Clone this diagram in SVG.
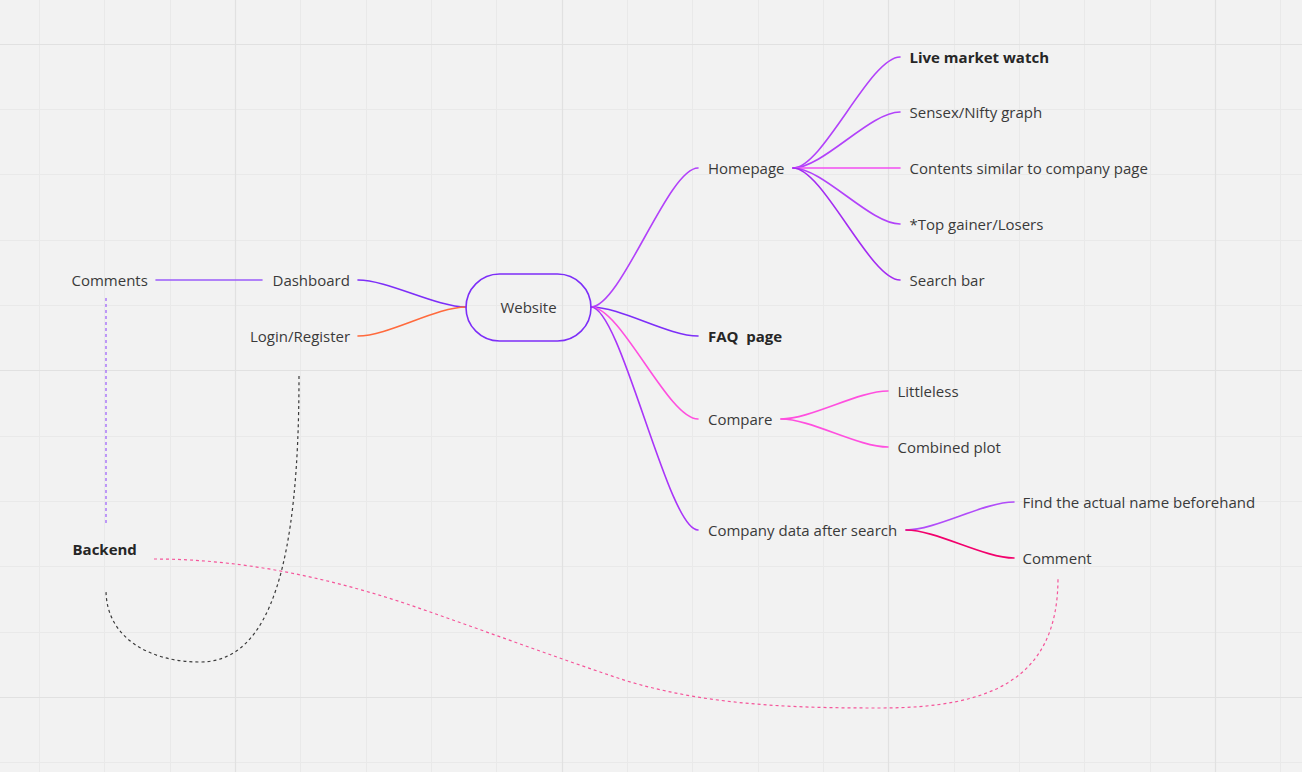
<svg xmlns="http://www.w3.org/2000/svg" width="1302" height="772" viewBox="0 0 1302 772">
  <style>
    .grid-minor { stroke: #e9e9e9; stroke-width: 1; fill: none; }
    .grid-major { stroke: #e1e1e1; stroke-width: 1.2; fill: none; }
    .lbl { font-family: "Open Sans", "Liberation Sans", sans-serif; font-size: 15px; fill: #3a3a3a; }
    .bold { font-weight: 700; fill: #262626; }
    .branch { fill: none; stroke-width: 1.6; stroke-linecap: round; }
    .dash { fill: none; stroke-width: 1.2; stroke-dasharray: 3 3; }
    .root { fill: none; stroke: #7d2ef8; stroke-width: 1.6; }
  </style>

  <!-- canvas -->
  <rect x="0" y="0" width="1302" height="772" fill="#f2f2f2"/>
  <g id="grid">
    <path class="grid-minor" d="M39.5 0V772M104.5 0V772M170.5 0V772M300.5 0V772M366.5 0V772M431.5 0V772M496.5 0V772M627.5 0V772M692.5 0V772M758.5 0V772M823.5 0V772M954.5 0V772M1019.5 0V772M1084.5 0V772M1150.5 0V772M1280.5 0V772M0 109.5H1302M0 174.5H1302M0 240.5H1302M0 305.5H1302M0 436.5H1302M0 501.5H1302M0 566.5H1302M0 632.5H1302M0 762.5H1302"/>
    <path class="grid-major" d="M235.5 0V772M562.5 0V772M888.5 0V772M1215.5 0V772M0 44.5H1302M0 370.5H1302M0 697.5H1302"/>
  </g>

  <!-- connectors -->
  <g id="connectors">
    <!-- left side -->
    <path class="branch" stroke="#9b5cfa" stroke-width="2" d="M156 280H262"/>
    <path class="branch" stroke="#7d2ef8" d="M358 280C388 280 436 307 466 307"/>
    <path class="branch" stroke="#ff6a3d" d="M358 336C388 336 436 307 466 307"/>
    <!-- root to first level -->
    <path class="branch" stroke="#b242fa" d="M591 307C621 307 668 168 698 168"/>
    <path class="branch" stroke="#7d2ef8" d="M591 307C621 307 668 336 698 336"/>
    <path class="branch" stroke="#ff4fdf" d="M591 307C621 307 668 419 698 419"/>
    <path class="branch" stroke="#a935f9" d="M591 307C621 307 668 530 698 530"/>
    <!-- homepage children -->
    <path class="branch" stroke="#b242fa" d="M793 168C823 168 870 57 900 57"/>
    <path class="branch" stroke="#b242fa" d="M793 168C823 168 870 112 900 112"/>
    <path class="branch" stroke="#f24ff2" d="M793 168H900"/>
    <path class="branch" stroke="#b242fa" d="M793 168C823 168 870 224 900 224"/>
    <path class="branch" stroke="#a42cf2" d="M793 168C823 168 870 280 900 280"/>
    <!-- compare children -->
    <path class="branch" stroke="#ff4fdf" d="M781 419C811 419 858 391 888 391"/>
    <path class="branch" stroke="#ff4fdf" d="M781 419C811 419 858 447 888 447"/>
    <!-- company data children -->
    <path class="branch" stroke="#b14cf9" d="M906 530C936 530 984 502 1014 502"/>
    <path class="branch" stroke="#f2006c" d="M906 530C936 530 984 558 1014 558"/>
    <!-- dashed links -->
    <path class="dash" stroke="#9b5cfa" d="M106 298V525"/>
    <path class="dash" stroke="#3a3a3a" d="M299 376C299 560 272 662 200 662C150 662 106 638 106 590"/>
    <path class="dash" stroke="#f5559a" d="M154 559C238 559 323 576 407 604C480 629 554 657 627 681C711 706 796 708 880 708C990 708 1058 680 1058 578"/>
  </g>

  <!-- nodes -->
  <g id="node-website">
    <rect class="root" x="466" y="274" width="125" height="67" rx="33.5"/>
    <text class="lbl" x="528.5" y="313" text-anchor="middle">Website</text>
  </g>
  <g id="node-comments"><text class="lbl" x="71.5" y="286">Comments</text></g>
  <g id="node-dashboard"><text class="lbl" x="272.5" y="286">Dashboard</text></g>
  <g id="node-login"><text class="lbl" x="250" y="341.5">Login/Register</text></g>
  <g id="node-backend"><text class="lbl bold" x="72.5" y="555">Backend</text></g>
  <g id="node-homepage"><text class="lbl" x="708" y="174">Homepage</text></g>
  <g id="node-faq"><text class="lbl bold" x="708" y="341.5" xml:space="preserve">FAQ  page</text></g>
  <g id="node-compare"><text class="lbl" x="708" y="425">Compare</text></g>
  <g id="node-company"><text class="lbl" x="708" y="536">Company data after search</text></g>
  <g id="node-live"><text class="lbl bold" x="909.5" y="62.5">Live market watch</text></g>
  <g id="node-sensex"><text class="lbl" x="909.5" y="118">Sensex/Nifty graph</text></g>
  <g id="node-contents"><text class="lbl" x="909.5" y="174">Contents similar to company page</text></g>
  <g id="node-topgainer"><text class="lbl" x="909.5" y="230">*Top gainer/Losers</text></g>
  <g id="node-searchbar"><text class="lbl" x="909.5" y="286">Search bar</text></g>
  <g id="node-littleless"><text class="lbl" x="897.5" y="397">Littleless</text></g>
  <g id="node-combined"><text class="lbl" x="897.5" y="453">Combined plot</text></g>
  <g id="node-findname"><text class="lbl" x="1022.5" y="508">Find the actual name beforehand</text></g>
  <g id="node-comment"><text class="lbl" x="1022.5" y="564">Comment</text></g>
</svg>
